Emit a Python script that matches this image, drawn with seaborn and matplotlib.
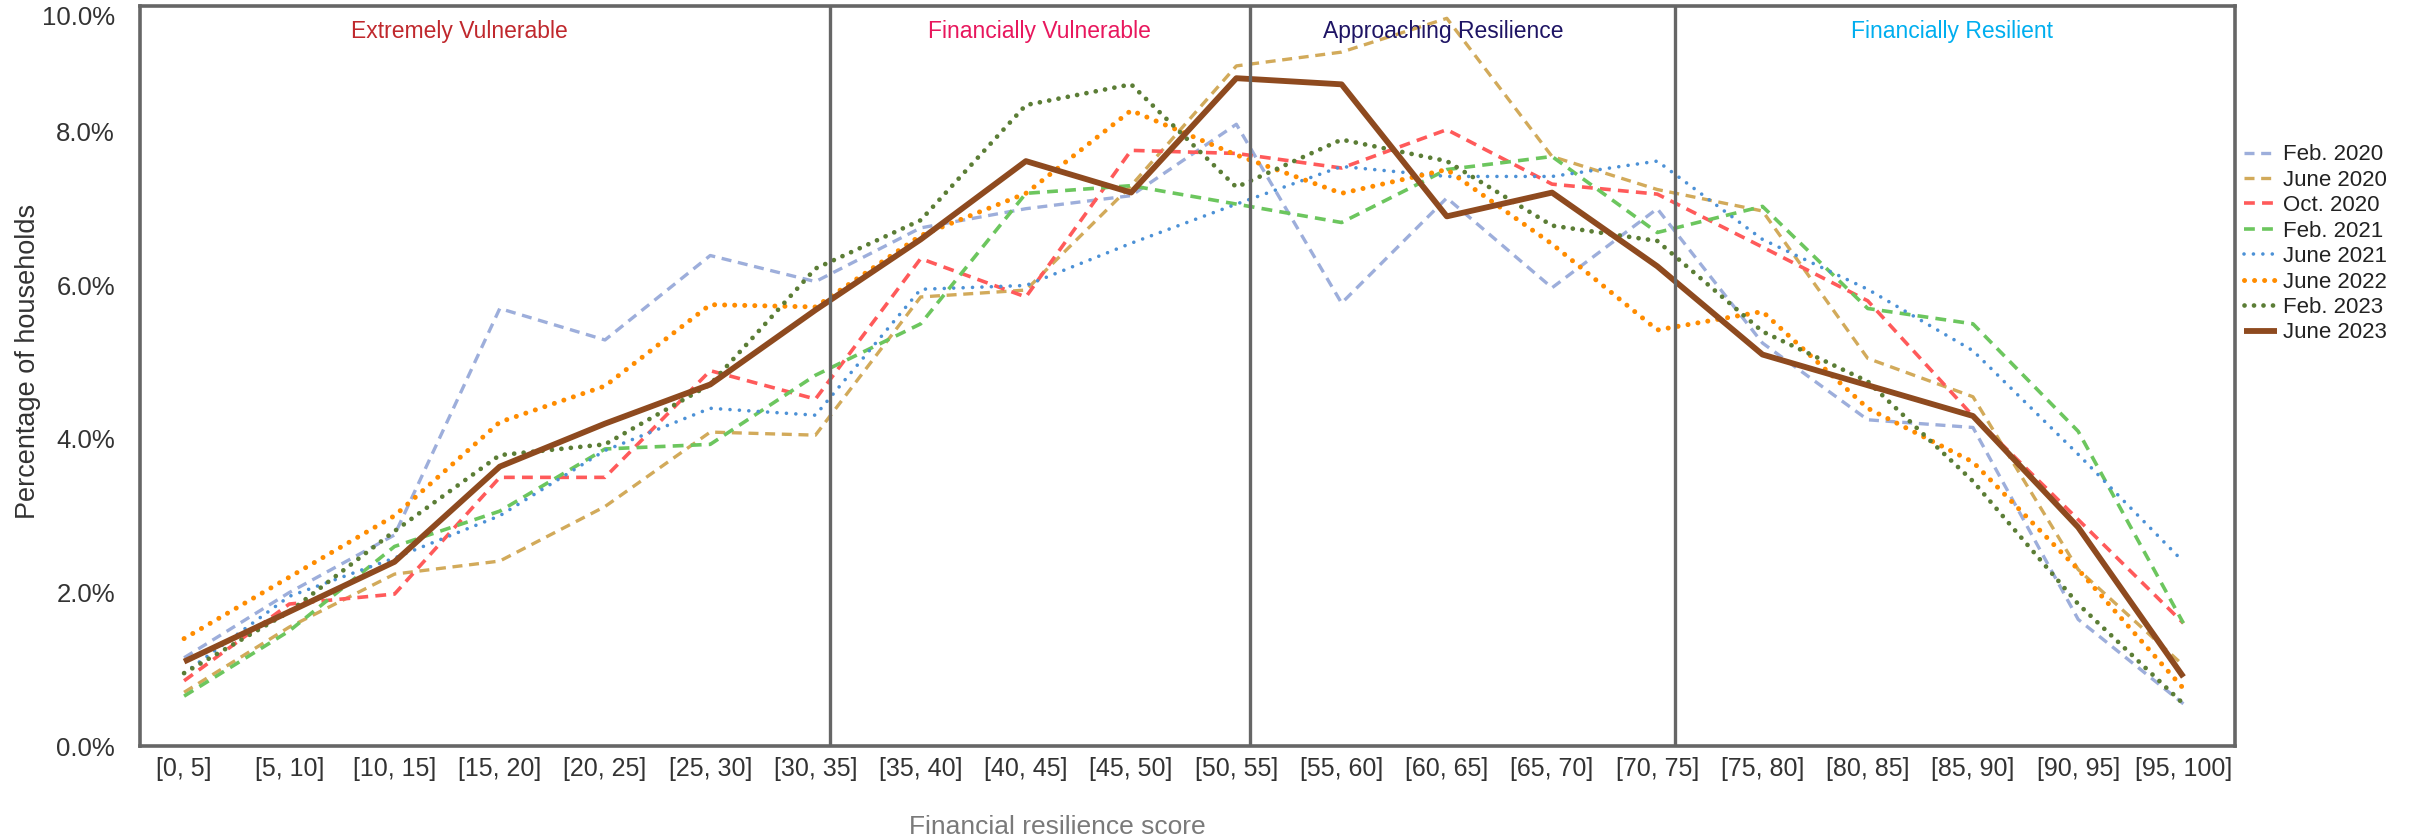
import numpy as np
import pandas as pd
import matplotlib
matplotlib.use("Agg")
import matplotlib.pyplot as plt
import matplotlib.transforms as mtransforms
import seaborn as sns

categories = ["[0, 5]", "[5, 10]", "[10, 15]", "[15, 20]", "[20, 25]", "[25, 30]",
              "[30, 35]", "[35, 40]", "[40, 45]", "[45, 50]", "[50, 55]", "[55, 60]",
              "[60, 65]", "[65, 70]", "[70, 75]", "[75, 80]", "[80, 85]", "[85, 90]",
              "[90, 95]", "[95, 100]"]

feb_2020 = [1.15, 2.00, 2.75, 5.70, 5.29, 6.39, 6.05, 6.75, 7.00, 7.17, 8.10, 5.77, 7.14, 5.97, 7.00, 5.25, 4.25, 4.15, 1.65, 0.55]
june_2020 = [0.70, 1.55, 2.24, 2.41, 3.12, 4.09, 4.05, 5.85, 5.94, 7.30, 8.86, 9.04, 9.48, 7.68, 7.25, 6.97, 5.05, 4.55, 2.30, 1.05]
oct_2020 = [0.85, 1.85, 1.98, 3.50, 3.50, 4.89, 4.52, 6.35, 5.85, 7.76, 7.72, 7.53, 8.03, 7.32, 7.19, 6.50, 5.80, 4.30, 2.95, 1.60]
feb_2021 = [0.65, 1.50, 2.60, 3.06, 3.87, 3.93, 4.83, 5.50, 7.20, 7.30, 7.06, 6.82, 7.51, 7.68, 6.69, 7.03, 5.70, 5.50, 4.10, 1.60]
june_2021 = [0.95, 1.95, 2.45, 3.00, 3.85, 4.40, 4.31, 5.95, 6.00, 6.55, 7.06, 7.55, 7.42, 7.42, 7.62, 6.60, 5.95, 5.15, 3.80, 2.40]
june_2022 = [1.40, 2.20, 3.00, 4.22, 4.69, 5.75, 5.72, 6.65, 7.20, 8.28, 7.70, 7.20, 7.51, 6.54, 5.42, 5.66, 4.40, 3.70, 2.30, 0.75]
feb_2023 = [0.95, 1.75, 2.80, 3.79, 3.93, 4.71, 6.22, 6.85, 8.35, 8.62, 7.28, 7.90, 7.62, 6.78, 6.58, 5.40, 4.75, 3.45, 1.85, 0.55]
june_2023 = [1.10, 1.75, 2.40, 3.64, 4.20, 4.71, 5.68, 6.60, 7.62, 7.21, 8.70, 8.62, 6.90, 7.21, 6.25, 5.10, 4.70, 4.30, 2.85, 0.90]

series_names = ["Feb. 2020", "June 2020", "Oct. 2020", "Feb. 2021",
                "June 2021", "June 2022", "Feb. 2023", "June 2023"]
series_values = [feb_2020, june_2020, oct_2020, feb_2021,
                 june_2021, june_2022, feb_2023, june_2023]

region_names = ["Extremely Vulnerable", "Financially Vulnerable",
                "Approaching Resilience", "Financially Resilient"]

ytick_values = [0, 2, 4, 6, 8]
ytick_labels = ["0.0%", "2.0%", "4.0%", "6.0%", "8.0%"]

# ---- styling ----
styles = {
    "Feb. 2020": dict(color="#9DAEDB", linestyle=(0, (3.0, 2.0)), lw=2.4, dash_capstyle="butt"),
    "June 2020": dict(color="#D2AA5A", linestyle=(0, (3.0, 2.0)), lw=2.4, dash_capstyle="butt"),
    "Oct. 2020": dict(color="#FF5A5A", linestyle=(0, (3.0, 2.0)), lw=2.6, dash_capstyle="butt"),
    "Feb. 2021": dict(color="#6CC65E", linestyle=(0, (3.0, 2.0)), lw=2.6, dash_capstyle="butt"),
    "June 2021": dict(color="#4C91D6", linestyle=(0, (0.01, 2.6)), lw=2.6, dash_capstyle="round"),
    "June 2022": dict(color="#FF8C00", linestyle=(0, (0.01, 2.0)), lw=3.6, dash_capstyle="round"),
    "Feb. 2023": dict(color="#5B7D35", linestyle=(0, (0.01, 2.0)), lw=3.4, dash_capstyle="round"),
    "June 2023": dict(color="#8E4A1F", linestyle="-", lw=4.2, dash_capstyle="butt"),
}

sns.set_theme(style="white")
plt.rcParams["font.family"] = ["Liberation Sans", "DejaVu Sans"]

fig = plt.figure(figsize=(24.12, 8.39), dpi=100)
ax = fig.add_axes([0.058, 0.1108, 0.8686, 0.882])

x = np.arange(len(categories))
handles = []
for name, vals in zip(series_names, series_values):
    df = pd.DataFrame({"x": x, "y": vals})
    st = styles[name]
    sns.lineplot(data=df, x="x", y="y", ax=ax, color=st["color"], lw=st["lw"],
                 linestyle=st["linestyle"], dash_capstyle=st["dash_capstyle"],
                 solid_capstyle="butt", legend=False)
    handles.append(ax.get_lines()[-1])

ax.set_xlim(-0.42, 19.49)
ax.set_ylim(0, 9.64)

# region dividers
for xd in [6.14, 10.13, 14.17]:
    ax.axvline(xd, color="#666666", lw=2.4, zorder=5)

# region titles
trans = mtransforms.blended_transform_factory(ax.transData, ax.transAxes)
region_x = [2.62, 8.13, 11.97, 16.80]
region_colors = ["#C0282D", "#E8175D", "#1E1464", "#00AEEF"]
for name, xc, c in zip(region_names, region_x, region_colors):
    ax.text(xc, 0.966, name, transform=trans, ha="center", va="center",
            fontsize=16.5, color=c)

# ticks
ax.set_xticks(x)
ax.set_xticklabels(categories, fontsize=18, color="#333333")
ax.set_yticks(ytick_values + [9.52])
ax.set_yticklabels(ytick_labels + ["10.0%"], fontsize=18.5, color="#333333")
ax.tick_params(axis="both", length=0)
ax.tick_params(axis="x", pad=8)
ax.tick_params(axis="y", pad=18)

for s in ax.spines.values():
    s.set_color("#666666")
    s.set_linewidth(2.6)
    s.set_visible(True)

ax.set_ylabel("Percentage of households", fontsize=19.5, color="#333333")
ax.yaxis.set_label_coords(-0.047, 0.52)
ax.set_xlabel("Financial resilience score", fontsize=19, color="#7A7A7A")
ax.xaxis.set_label_coords(0.438, -0.093)

fig.legend(handles, series_names, loc="upper left", bbox_to_anchor=(0.9305, 0.828),
           frameon=False, fontsize=16, handlelength=1.45, labelspacing=0.2,
           handletextpad=0.3, borderaxespad=0, borderpad=0, labelcolor="#222222")

fig.savefig("out.png", dpi=100, facecolor="white")
